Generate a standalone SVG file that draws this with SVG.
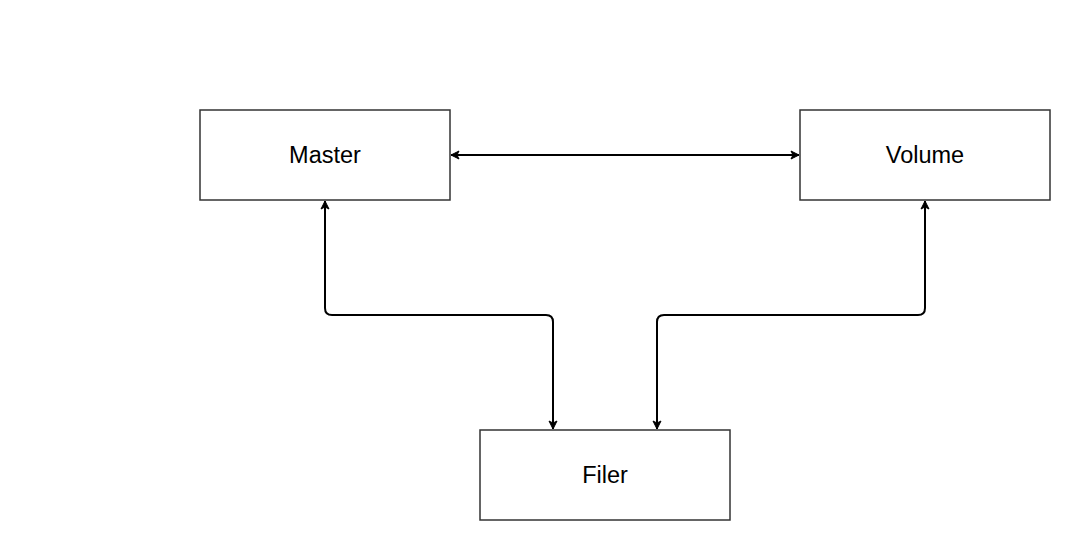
<svg xmlns="http://www.w3.org/2000/svg" width="1070" height="540" viewBox="0 0 1070 540">
<style>
.box{fill:#ffffff;stroke:#333333;stroke-width:1.5}
.lbl{font-family:"Liberation Sans",Arial,sans-serif;font-size:23.5px;fill:#000000;text-anchor:middle;dominant-baseline:central}
.edge{fill:none;stroke:#000000;stroke-width:2;stroke-linejoin:round}
</style>
<defs>
<marker id="arr" viewBox="0 0 10 10" refX="9" refY="5" markerWidth="10" markerHeight="10" markerUnits="userSpaceOnUse" orient="auto-start-reverse">
<path d="M1,1 L9,5 L1,9 L3,5 Z" fill="#000000" stroke="#000000" stroke-width="1" stroke-linejoin="round"/>
</marker>
</defs>
<rect width="1070" height="540" fill="#ffffff"/>
<g id="connectors">
<path class="edge" d="M451,155 L799,155" marker-start="url(#arr)" marker-end="url(#arr)"/>
<path class="edge" d="M325,201 L325,308 Q325,315 332,315 L546,315 Q553,315 553,322 L553,429" marker-start="url(#arr)" marker-end="url(#arr)"/>
<path class="edge" d="M925,201 L925,308 Q925,315 918,315 L664,315 Q657,315 657,322 L657,429" marker-start="url(#arr)" marker-end="url(#arr)"/>
</g>
<g id="master">
<rect class="box" x="200" y="110" width="250" height="90"/>
<text class="lbl" x="325" y="155">Master</text>
</g>
<g id="volume">
<rect class="box" x="800" y="110" width="250" height="90"/>
<text class="lbl" x="925" y="155">Volume</text>
</g>
<g id="filer">
<rect class="box" x="480" y="430" width="250" height="90"/>
<text class="lbl" x="605" y="475">Filer</text>
</g>
</svg>
